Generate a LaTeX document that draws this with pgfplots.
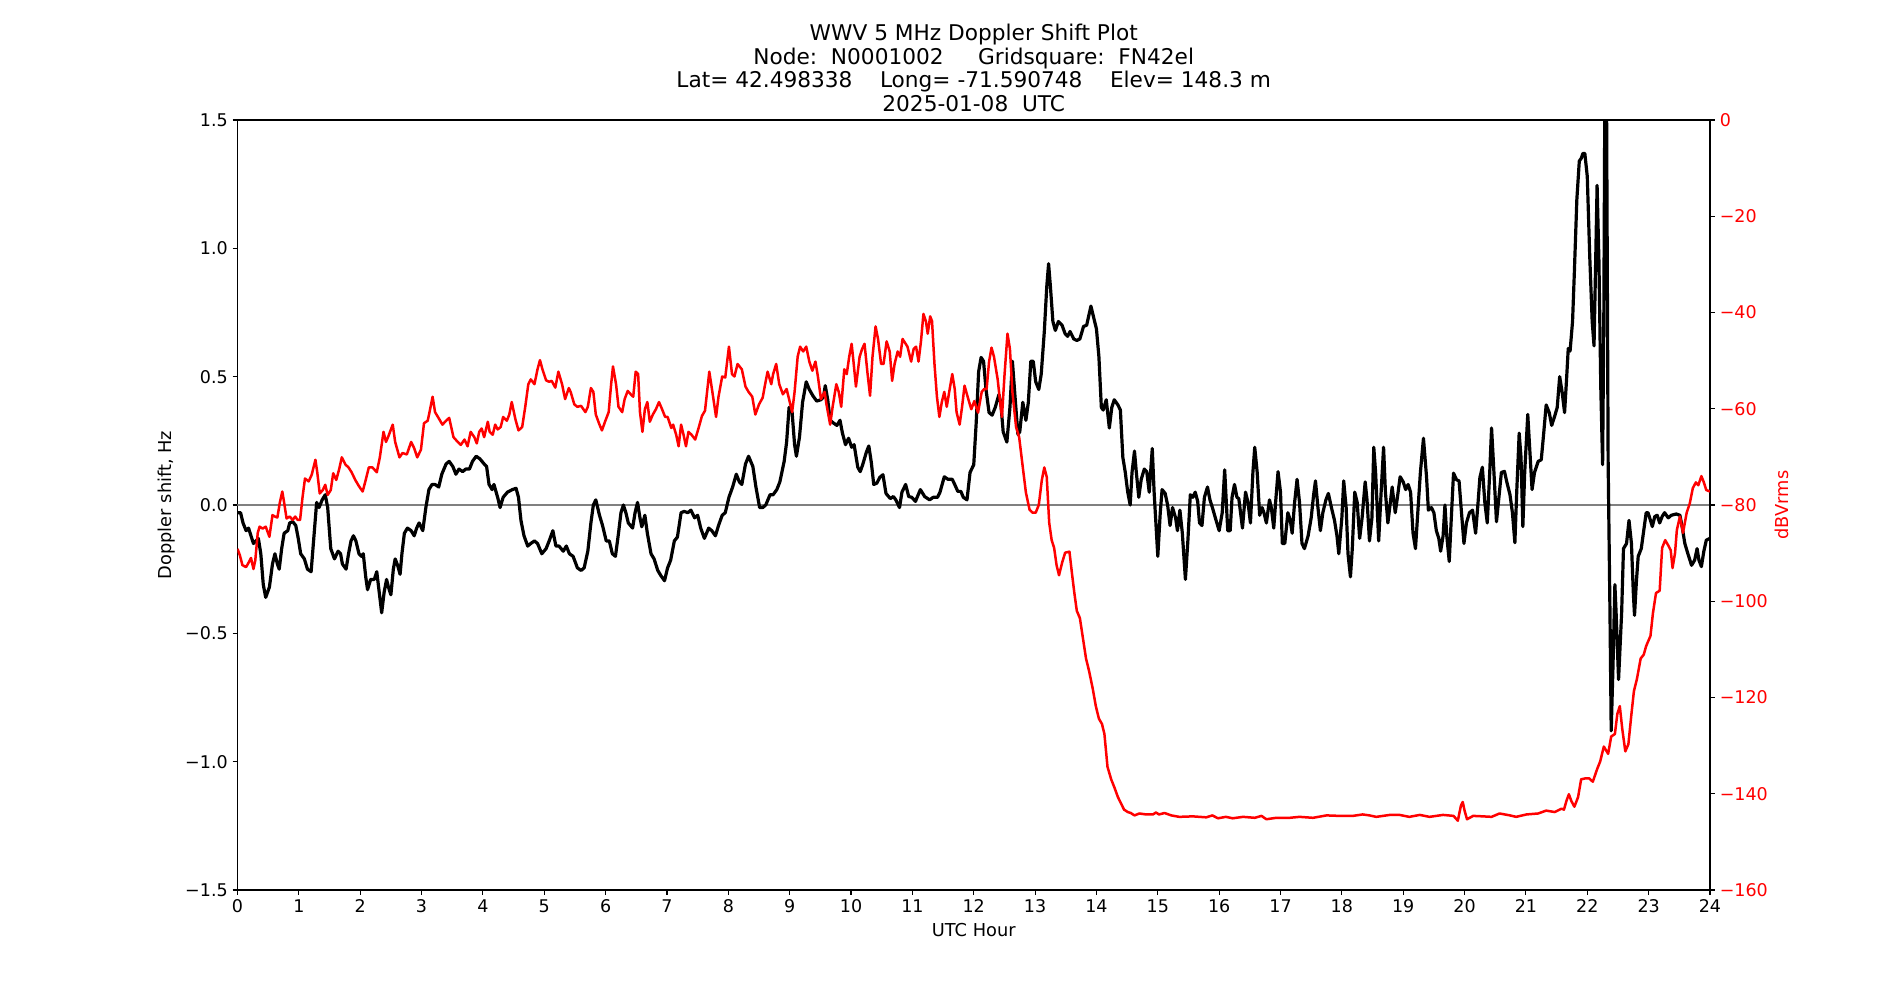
\documentclass[border=0pt]{standalone}
\usepackage{pgfplots}
\pgfplotsset{compat=1.18}
\usepackage{fontspec}
\setmainfont{DejaVu Sans}
\definecolor{zerogray}{RGB}{128,128,128}
\begin{document}
\begin{tikzpicture}
\useasboundingbox (-171pt,-79.2pt) rectangle (1197pt,640.8pt);
\pgfplotsset{
  common/.style={
    at={(0,0)}, anchor=south west, scale only axis,
    width=1060.2pt, height=554.4pt,
    xmin=0, xmax=24,
    tick align=outside, major tick length=3.5pt,
    every tick/.style={black, line width=0.8pt},
    axis line style={line width=0.8pt},
    tick label style={font=\fontsize{12.6}{14}\selectfont},
    label style={font=\fontsize{12.8}{14}\selectfont},
  }
}
\begin{axis}[common, name=main,
  ymin=-1.5, ymax=1.5,
  xtick={0,...,24},
  xticklabels={0,1,2,3,4,5,6,7,8,9,10,11,12,13,14,15,16,17,18,19,20,21,22,23,24},
  xtick pos=bottom,
  ytick={-1.5,-1,-0.5,0,0.5,1,1.5},
  yticklabels={−1.5,−1.0,−0.5,0.0,0.5,1.0,1.5},
  ytick pos=left,
  xlabel={UTC Hour}, ylabel={Doppler shift, Hz},
  xlabel style={at={(rel axis cs:0.5,-0.0519)}, anchor=center, inner sep=0pt},
  ylabel style={at={(rel axis cs:-0.0481,0.5)}, anchor=center, inner sep=0pt},
]
\addplot[zerogray, line width=1pt] coordinates {(0,0) (24,0)};
\addplot[black, line width=2.3pt, line join=round] coordinates {
(0,-0.03) (0.05,-0.03) (0.09,-0.07) (0.14,-0.10) (0.18,-0.09) (0.22,-0.12) (0.26,-0.15) (0.30,-0.14) (0.34,-0.13) (0.38,-0.19)
(0.42,-0.31) (0.46,-0.36) (0.52,-0.32) (0.57,-0.23) (0.61,-0.19) (0.65,-0.23) (0.68,-0.25) (0.72,-0.17) (0.76,-0.11) (0.82,-0.10)
(0.85,-0.07) (0.90,-0.065) (0.95,-0.08) (0.99,-0.13) (1.03,-0.19) (1.09,-0.21) (1.14,-0.25) (1.20,-0.26) (1.25,-0.11) (1.29,0.01)
(1.33,-0.01) (1.38,0.02) (1.43,0.04) (1.47,-0.01) (1.52,-0.17) (1.58,-0.21) (1.64,-0.18) (1.68,-0.19) (1.71,-0.23) (1.77,-0.25)
(1.81,-0.19) (1.85,-0.14) (1.89,-0.12) (1.93,-0.14) (1.98,-0.19) (2.02,-0.20) (2.05,-0.19) (2.09,-0.28) (2.12,-0.33) (2.17,-0.29)
(2.23,-0.29) (2.27,-0.26) (2.31,-0.34) (2.35,-0.42) (2.39,-0.34) (2.43,-0.29) (2.46,-0.32) (2.50,-0.35) (2.54,-0.25) (2.57,-0.21)
(2.61,-0.235) (2.65,-0.27) (2.68,-0.19) (2.72,-0.11) (2.77,-0.09) (2.83,-0.10) (2.88,-0.12) (2.92,-0.09) (2.96,-0.07) (3.02,-0.10)
(3.07,-0.01) (3.12,0.06) (3.17,0.08) (3.22,0.08) (3.28,0.07) (3.33,0.12) (3.40,0.16) (3.45,0.17) (3.51,0.15) (3.56,0.12)
(3.61,0.14) (3.67,0.13) (3.72,0.14) (3.78,0.14) (3.83,0.17) (3.89,0.19) (3.95,0.18) (4.02,0.16) (4.06,0.15) (4.10,0.08)
(4.15,0.06) (4.18,0.08) (4.24,0.03) (4.28,-0.01) (4.33,0.03) (4.40,0.05) (4.48,0.06) (4.54,0.065) (4.58,0.03) (4.62,-0.06)
(4.67,-0.12) (4.73,-0.16) (4.78,-0.15) (4.84,-0.14) (4.89,-0.15) (4.96,-0.19) (5.03,-0.17) (5.08,-0.14) (5.14,-0.10) (5.19,-0.16)
(5.24,-0.16) (5.31,-0.18) (5.36,-0.16) (5.41,-0.19) (5.47,-0.20) (5.54,-0.245) (5.60,-0.255) (5.65,-0.245) (5.71,-0.18) (5.76,-0.07)
(5.80,0.0) (5.84,0.02) (5.90,-0.04) (5.95,-0.08) (6.01,-0.14) (6.06,-0.14) (6.11,-0.19) (6.16,-0.20) (6.21,-0.11) (6.25,-0.03)
(6.29,0.0) (6.33,-0.03) (6.37,-0.07) (6.44,-0.09) (6.48,-0.03) (6.52,0.01) (6.56,-0.05) (6.59,-0.085) (6.64,-0.04) (6.68,-0.11)
(6.74,-0.19) (6.79,-0.21) (6.85,-0.255) (6.90,-0.275) (6.96,-0.295) (7.01,-0.245) (7.06,-0.215) (7.12,-0.14) (7.17,-0.125) (7.23,-0.03)
(7.28,-0.025) (7.34,-0.03) (7.39,-0.02) (7.45,-0.05) (7.50,-0.04) (7.55,-0.09) (7.61,-0.13) (7.68,-0.09) (7.73,-0.10) (7.79,-0.12)
(7.84,-0.08) (7.90,-0.04) (7.95,-0.03) (8.01,0.03) (8.07,0.07) (8.13,0.12) (8.18,0.09) (8.22,0.08) (8.28,0.16) (8.33,0.19)
(8.40,0.15) (8.45,0.07) (8.51,-0.01) (8.56,-0.01) (8.61,0.0) (8.68,0.04) (8.73,0.04) (8.79,0.06) (8.84,0.09) (8.91,0.17)
(8.95,0.245) (8.99,0.38) (9.04,0.36) (9.08,0.235) (9.11,0.19) (9.16,0.265) (9.21,0.40) (9.27,0.48) (9.32,0.45) (9.38,0.425)
(9.44,0.405) (9.51,0.41) (9.55,0.42) (9.58,0.465) (9.62,0.41) (9.66,0.33) (9.71,0.32) (9.77,0.31) (9.82,0.33) (9.86,0.28)
(9.91,0.235) (9.96,0.26) (10.01,0.225) (10.05,0.235) (10.11,0.147) (10.15,0.13) (10.19,0.157) (10.25,0.206) (10.29,0.23) (10.33,0.167)
(10.37,0.08) (10.42,0.085) (10.47,0.108) (10.52,0.118) (10.57,0.045) (10.64,0.025) (10.69,0.033) (10.73,0.02) (10.79,-0.01) (10.83,0.05)
(10.89,0.08) (10.94,0.033) (10.99,0.03) (11.05,0.014) (11.13,0.06) (11.20,0.033) (11.28,0.02) (11.34,0.03) (11.41,0.03) (11.45,0.05)
(11.52,0.11) (11.58,0.10) (11.65,0.10) (11.69,0.08) (11.74,0.053) (11.79,0.053) (11.83,0.03) (11.89,0.02) (11.94,0.127) (12.0,0.157)
(12.04,0.32) (12.08,0.52) (12.12,0.575) (12.16,0.56) (12.20,0.45) (12.25,0.36) (12.30,0.35) (12.35,0.38) (12.41,0.43) (12.44,0.40)
(12.48,0.285) (12.54,0.245) (12.59,0.38) (12.63,0.56) (12.68,0.40) (12.72,0.275) (12.75,0.285) (12.80,0.40) (12.85,0.33) (12.89,0.40)
(12.93,0.56) (12.97,0.56) (13.01,0.48) (13.06,0.45) (13.10,0.51) (13.15,0.675) (13.19,0.85) (13.22,0.94) (13.25,0.85) (13.29,0.715)
(13.33,0.68) (13.38,0.715) (13.44,0.70) (13.49,0.667) (13.53,0.657) (13.57,0.676) (13.63,0.647) (13.68,0.641) (13.73,0.647) (13.79,0.696)
(13.84,0.70) (13.91,0.775) (13.95,0.735) (14.0,0.686) (14.04,0.578) (14.08,0.38) (14.11,0.37) (14.16,0.41) (14.21,0.30) (14.25,0.38)
(14.29,0.41) (14.35,0.39) (14.39,0.37) (14.43,0.186) (14.47,0.127) (14.51,0.05) (14.55,0.0) (14.58,0.127) (14.62,0.21) (14.65,0.127)
(14.69,0.03) (14.73,0.10) (14.78,0.14) (14.82,0.13) (14.86,0.05) (14.91,0.22) (14.94,0.05) (15.0,-0.20) (15.04,-0.03) (15.07,0.06)
(15.12,0.045) (15.16,0.0) (15.20,-0.08) (15.24,-0.01) (15.29,-0.05) (15.32,-0.10) (15.36,-0.02) (15.40,-0.11) (15.45,-0.29) (15.49,-0.14)
(15.53,0.04) (15.57,0.03) (15.61,0.05) (15.65,0.014) (15.68,-0.07) (15.72,-0.08) (15.76,0.03) (15.81,0.07) (15.85,0.02) (15.89,-0.01)
(15.95,-0.06) (16.0,-0.10) (16.05,-0.03) (16.09,0.137) (16.14,-0.10) (16.18,-0.10) (16.21,0.03) (16.25,0.08) (16.29,0.03) (16.32,0.025)
(16.38,-0.09) (16.43,0.05) (16.47,0.01) (16.51,-0.07) (16.55,0.127) (16.58,0.225) (16.62,0.127) (16.66,-0.04) (16.70,-0.01) (16.73,-0.03)
(16.77,-0.07) (16.82,0.02) (16.85,-0.01) (16.89,-0.09) (16.92,0.01) (16.96,0.13) (17.0,0.05) (17.03,-0.15) (17.07,-0.15) (17.12,-0.03)
(17.16,-0.06) (17.19,-0.11) (17.23,0.01) (17.27,0.10) (17.31,0.01) (17.35,-0.15) (17.39,-0.17) (17.45,-0.12) (17.50,-0.05) (17.54,0.04)
(17.57,0.094) (17.61,-0.01) (17.65,-0.10) (17.69,-0.03) (17.74,0.02) (17.78,0.045) (17.83,-0.01) (17.88,-0.06) (17.92,-0.12) (17.95,-0.19)
(18.00,-0.05) (18.03,0.094) (18.07,-0.01) (18.10,-0.19) (18.14,-0.28) (18.17,-0.17) (18.21,0.05) (18.25,0.01) (18.29,-0.13) (18.33,-0.05)
(18.38,0.09) (18.41,0.02) (18.45,-0.14) (18.49,-0.05) (18.52,0.225) (18.55,0.127) (18.60,-0.14) (18.64,0.05) (18.68,0.225) (18.71,0.05)
(18.75,-0.07) (18.79,0.01) (18.82,0.07) (18.87,-0.03) (18.90,0.02) (18.95,0.11) (19.0,0.09) (19.04,0.06) (19.08,0.08) (19.12,0.05)
(19.16,-0.11) (19.20,-0.17) (19.24,-0.02) (19.28,0.127) (19.33,0.26) (19.38,0.11) (19.41,-0.02) (19.46,-0.01) (19.50,-0.03) (19.54,-0.10)
(19.58,-0.13) (19.61,-0.18) (19.65,-0.12) (19.68,0.0) (19.71,-0.12) (19.75,-0.22) (19.78,-0.07) (19.82,0.124) (19.87,0.098) (19.91,0.094)
(19.95,-0.03) (19.99,-0.15) (20.03,-0.07) (20.08,-0.03) (20.13,-0.02) (20.18,-0.11) (20.22,0.01) (20.25,0.108) (20.29,0.147) (20.33,0.01)
(20.37,-0.07) (20.41,0.127) (20.44,0.30) (20.47,0.167) (20.52,-0.065) (20.56,0.03) (20.60,0.127) (20.65,0.131) (20.69,0.088) (20.74,0.04)
(20.78,-0.03) (20.82,-0.147) (20.85,0.05) (20.89,0.28) (20.92,0.186) (20.95,-0.084) (20.98,0.127) (21.03,0.353) (21.07,0.186) (21.10,0.06)
(21.14,0.127) (21.20,0.17) (21.25,0.176) (21.29,0.28) (21.33,0.39) (21.38,0.36) (21.42,0.31) (21.47,0.347) (21.51,0.38) (21.55,0.50)
(21.59,0.44) (21.63,0.36) (21.66,0.48) (21.69,0.61) (21.72,0.60) (21.76,0.715) (21.79,0.91) (21.83,1.19) (21.87,1.34) (21.90,1.35)
(21.93,1.37) (21.96,1.37) (22.0,1.28) (22.04,0.97) (22.08,0.715) (22.11,0.62) (22.14,0.99) (22.16,1.245) (22.19,0.95) (22.22,0.46)
(22.25,0.157) (22.27,0.75) (22.29,1.8) (22.31,1.8) (22.34,0.17) (22.37,-0.42) (22.39,-0.88) (22.42,-0.62) (22.45,-0.31) (22.47,-0.42)
(22.51,-0.68) (22.56,-0.42) (22.59,-0.17) (22.64,-0.15) (22.68,-0.06) (22.72,-0.15) (22.75,-0.34) (22.77,-0.43) (22.80,-0.30) (22.83,-0.20)
(22.88,-0.17) (22.92,-0.10) (22.96,-0.03) (22.99,-0.03) (23.03,-0.06) (23.06,-0.084) (23.10,-0.045) (23.14,-0.04) (23.18,-0.07) (23.22,-0.045)
(23.26,-0.03) (23.32,-0.05) (23.37,-0.04) (23.45,-0.035) (23.51,-0.04) (23.55,-0.09) (23.59,-0.15) (23.64,-0.19) (23.70,-0.235) (23.75,-0.215)
(23.79,-0.17) (23.82,-0.215) (23.86,-0.24) (23.90,-0.18) (23.94,-0.137) (24.0,-0.13)
};
\end{axis}
\begin{axis}[common,
  ymin=-160, ymax=0,
  axis x line=none, axis y line*=right,
  ytick={-160,-140,-120,-100,-80,-60,-40,-20,0},
  yticklabels={−160,−140,−120,−100,−80,−60,−40,−20,0},
  yticklabel style={text=red},
  ylabel={dBVrms},
  ylabel style={text=red, at={(rel axis cs:1.0489,0.5)}, anchor=center, inner sep=0pt},
]
\addplot[red, line width=1.8pt, line join=round] coordinates {
(0,-89.1) (0.04,-90.5) (0.08,-92.5) (0.14,-92.9) (0.18,-92.0) (0.22,-91.0) (0.26,-93.3) (0.29,-91.5) (0.33,-85.8) (0.36,-84.5)
(0.41,-84.9) (0.46,-84.5) (0.52,-86.6) (0.57,-82.1) (0.61,-82.4) (0.65,-82.6) (0.69,-79.5) (0.73,-77.2) (0.76,-79.5) (0.80,-82.8)
(0.85,-82.4) (0.90,-83.1) (0.94,-82.4) (0.98,-83.1) (1.02,-83.1) (1.06,-78.4) (1.10,-74.5) (1.16,-75.1) (1.21,-73.7) (1.27,-70.6)
(1.30,-73.2) (1.34,-77.6) (1.39,-76.9) (1.43,-75.8) (1.47,-77.9) (1.52,-76.9) (1.56,-73.4) (1.61,-74.8) (1.66,-72.4) (1.70,-70.1)
(1.76,-71.6) (1.81,-72.2) (1.86,-73.2) (1.92,-74.8) (1.98,-76.1) (2.04,-77.2) (2.09,-74.8) (2.14,-72.2) (2.20,-72.2) (2.27,-73.2)
(2.32,-70.1) (2.38,-64.8) (2.42,-66.9) (2.46,-65.7) (2.53,-63.3) (2.57,-66.9) (2.64,-70.1) (2.69,-69.2) (2.76,-69.5) (2.83,-66.9)
(2.88,-68.2) (2.93,-70.1) (2.99,-68.5) (3.04,-63.0) (3.10,-62.5) (3.13,-60.7) (3.18,-57.5) (3.22,-60.7) (3.29,-62.2) (3.34,-63.3)
(3.40,-62.5) (3.45,-61.9) (3.52,-65.9) (3.59,-66.9) (3.64,-67.5) (3.70,-66.4) (3.75,-67.8) (3.80,-64.8) (3.86,-65.9) (3.90,-67.2)
(3.94,-64.8) (3.98,-64.1) (4.02,-65.9) (4.08,-62.7) (4.11,-64.8) (4.16,-65.4) (4.20,-63.3) (4.24,-64.3) (4.29,-63.8) (4.33,-61.7)
(4.39,-62.5) (4.43,-61.2) (4.47,-58.6) (4.53,-62.2) (4.58,-64.5) (4.64,-63.8) (4.69,-59.6) (4.74,-54.9) (4.78,-53.9) (4.84,-54.9)
(4.89,-51.8) (4.93,-49.9) (4.97,-51.8) (5.03,-54.1) (5.08,-54.4) (5.12,-54.2) (5.18,-55.6) (5.23,-52.3) (5.29,-54.9) (5.34,-58.0)
(5.40,-55.7) (5.43,-56.5) (5.49,-59.1) (5.54,-59.6) (5.60,-59.4) (5.67,-60.7) (5.71,-59.6) (5.76,-55.7) (5.80,-56.5) (5.84,-61.2)
(5.90,-63.3) (5.94,-64.5) (5.99,-62.7) (6.05,-60.7) (6.09,-54.9) (6.12,-51.2) (6.17,-54.9) (6.21,-59.6) (6.27,-60.7) (6.31,-58.0)
(6.36,-56.3) (6.41,-57.0) (6.45,-57.5) (6.49,-52.3) (6.53,-52.8) (6.56,-60.7) (6.60,-64.8) (6.64,-60.1) (6.68,-58.6) (6.72,-62.7)
(6.77,-61.2) (6.82,-60.1) (6.87,-58.6) (6.92,-60.1) (6.97,-61.7) (7.01,-61.7) (7.07,-64.0) (7.10,-63.3) (7.15,-65.4) (7.19,-67.8)
(7.23,-63.3) (7.27,-65.4) (7.31,-67.8) (7.35,-64.8) (7.40,-65.4) (7.46,-66.4) (7.52,-63.8) (7.57,-61.5) (7.62,-60.4) (7.69,-52.3)
(7.74,-56.5) (7.80,-61.7) (7.84,-57.5) (7.90,-53.3) (7.95,-53.5) (8.01,-47.1) (8.06,-52.8) (8.10,-53.3) (8.15,-50.7) (8.22,-51.8)
(8.28,-55.4) (8.33,-56.5) (8.39,-57.5) (8.44,-61.2) (8.50,-59.1) (8.56,-57.7) (8.60,-54.9) (8.64,-52.3) (8.70,-54.9) (8.73,-52.8)
(8.78,-50.7) (8.83,-54.9) (8.89,-57.0) (8.95,-55.9) (8.99,-58.0) (9.04,-60.7) (9.08,-56.5) (9.13,-49.2) (9.17,-47.1) (9.22,-48.1)
(9.27,-47.1) (9.32,-50.2) (9.37,-52.1) (9.42,-50.2) (9.46,-53.3) (9.51,-58.0) (9.57,-56.5) (9.60,-59.1) (9.66,-63.3) (9.70,-59.6)
(9.76,-54.9) (9.80,-56.5) (9.84,-59.6) (9.89,-51.8) (9.93,-52.8) (9.97,-49.2) (10.01,-46.5) (10.04,-50.2) (10.08,-55.4) (10.14,-49.2)
(10.18,-47.6) (10.22,-46.5) (10.27,-52.8) (10.31,-57.3) (10.35,-49.2) (10.40,-42.9) (10.44,-45.5) (10.49,-50.7) (10.53,-50.7) (10.58,-46.0)
(10.63,-48.1) (10.67,-54.2) (10.71,-50.7) (10.76,-48.1) (10.80,-49.2) (10.84,-45.5) (10.89,-46.5) (10.92,-47.1) (10.98,-50.2) (11.02,-47.6)
(11.06,-47.1) (11.10,-50.2) (11.14,-46.0) (11.18,-40.3) (11.22,-41.8) (11.25,-44.4) (11.29,-40.8) (11.32,-41.8) (11.36,-50.7) (11.40,-57.5)
(11.44,-61.7) (11.48,-58.6) (11.52,-56.5) (11.56,-59.6) (11.60,-56.5) (11.65,-52.8) (11.69,-55.9) (11.72,-60.7) (11.77,-63.3) (11.81,-59.6)
(11.85,-55.2) (11.90,-57.5) (11.96,-60.1) (12.01,-58.4) (12.07,-60.8) (12.13,-56.5) (12.17,-55.9) (12.21,-55.9) (12.25,-50.2) (12.29,-47.3)
(12.33,-49.2) (12.39,-53.9) (12.43,-58.6) (12.46,-61.7) (12.50,-53.3) (12.55,-44.4) (12.59,-47.6) (12.63,-56.5) (12.69,-63.8) (12.74,-65.9)
(12.80,-72.2) (12.85,-77.4) (12.91,-81.0) (12.96,-81.6) (13.01,-81.6) (13.06,-80.0) (13.11,-74.8) (13.15,-72.2) (13.19,-74.2) (13.23,-83.7)
(13.27,-87.3) (13.31,-88.9) (13.35,-92.5) (13.39,-94.6) (13.44,-92.0) (13.49,-89.9) (13.56,-89.7) (13.60,-94.1) (13.64,-98.3) (13.68,-102.0)
(13.73,-103.5) (13.78,-107.7) (13.83,-111.9) (13.88,-114.5) (13.94,-118.2) (13.99,-121.8) (14.04,-124.4) (14.09,-125.5) (14.13,-127.6) (14.18,-134.4)
(14.24,-137.0) (14.29,-138.6) (14.35,-140.7) (14.40,-142.0) (14.45,-143.3) (14.51,-143.8) (14.56,-144.0) (14.62,-144.5) (14.70,-144.1) (14.81,-144.3)
(14.92,-144.3) (14.97,-143.9) (15.02,-144.3) (15.11,-144.0) (15.22,-144.5) (15.35,-144.8) (15.57,-144.7) (15.79,-144.9) (15.89,-144.5) (15.98,-145.1)
(16.11,-144.8) (16.22,-145.1) (16.39,-144.8) (16.58,-145.0) (16.69,-144.6) (16.77,-145.3) (16.93,-145.0) (17.15,-145.0) (17.31,-144.8) (17.53,-145.0)
(17.75,-144.5) (17.96,-144.6) (18.18,-144.6) (18.34,-144.3) (18.45,-144.5) (18.56,-144.8) (18.78,-144.4) (18.94,-144.4) (19.10,-144.8) (19.27,-144.4)
(19.43,-144.8) (19.65,-144.4) (19.82,-144.6) (19.89,-145.6) (19.94,-142.5) (19.97,-141.7) (20.00,-143.5) (20.04,-145.3) (20.14,-144.6) (20.30,-144.7)
(20.44,-144.8) (20.57,-144.1) (20.74,-144.5) (20.84,-144.8) (21.01,-144.3) (21.20,-144.1) (21.33,-143.5) (21.47,-143.8) (21.58,-143.1) (21.62,-143.3)
(21.66,-141.5) (21.70,-140.1) (21.74,-141.5) (21.79,-142.7) (21.85,-140.7) (21.90,-137.0) (21.97,-136.8) (22.03,-136.8) (22.09,-137.5) (22.16,-134.9)
(22.21,-133.3) (22.27,-130.2) (22.34,-131.7) (22.39,-128.1) (22.45,-127.6) (22.49,-123.4) (22.53,-121.8) (22.57,-126.5) (22.62,-131.2) (22.67,-129.7)
(22.72,-123.4) (22.76,-118.7) (22.81,-116.1) (22.87,-111.9) (22.92,-111.1) (22.96,-109.3) (23.03,-107.2) (23.07,-102.5) (23.12,-98.3) (23.18,-97.8)
(23.22,-88.9) (23.27,-87.3) (23.32,-88.4) (23.36,-89.4) (23.39,-93.1) (23.43,-90.0) (23.46,-85.2) (23.51,-82.4) (23.56,-85.8) (23.62,-81.6)
(23.67,-79.7) (23.72,-76.5) (23.77,-75.3) (23.81,-75.9) (23.86,-74.0) (23.90,-75.3) (23.94,-76.9) (24.0,-77.2)
};
\end{axis}
\node[align=center, font=\fontsize{15.6}{16.9}\selectfont, anchor=south, inner sep=0pt] at ([yshift=6pt]main.north)
  {WWV 5 MHz Doppler Shift Plot\\ Node:~~N0001002~~~~~Gridsquare:~~FN42el\\ Lat=~42.498338~~~~Long=~-71.590748~~~~Elev=~148.3~m\\ 2025-01-08~~UTC};
\end{tikzpicture}
\end{document}
